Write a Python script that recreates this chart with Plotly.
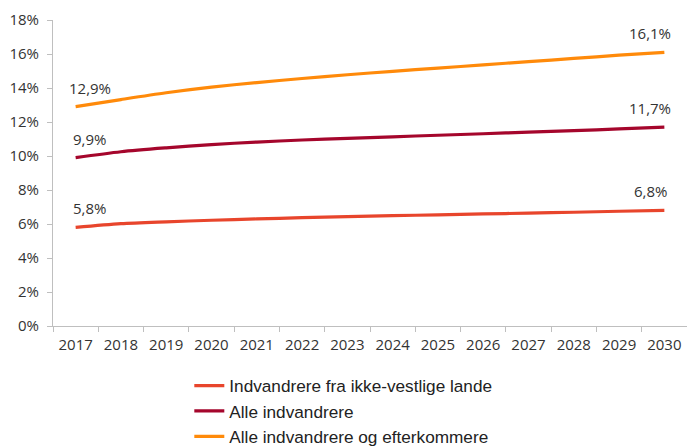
import plotly.graph_objects as go

years = [str(y) for y in range(2017, 2031)]
y_ticks = list(range(0, 19, 2))
y_tick_labels = [f"{t}%" for t in y_ticks]

# Andel af befolkningen (%)
ikke_vestlige = [5.8, 6.02, 6.13, 6.22, 6.3, 6.37, 6.43, 6.49, 6.54, 6.59, 6.64, 6.69, 6.75, 6.8]
alle_indvandrere = [9.9, 10.25, 10.48, 10.67, 10.82, 10.94, 11.04, 11.13, 11.22, 11.31, 11.4, 11.49, 11.59, 11.7]
alle_inkl_efterkommere = [12.9, 13.32, 13.72, 14.05, 14.32, 14.56, 14.78, 14.98, 15.17, 15.36, 15.55, 15.74, 15.93, 16.1]

series = [
    ("Indvandrere fra ikke-vestlige lande", ikke_vestlige, "#E8452C"),
    ("Alle indvandrere", alle_indvandrere, "#A5062C"),
    ("Alle indvandrere og efterkommere", alle_inkl_efterkommere, "#FF8A0A"),
]

label_font = dict(family="Open Sans, DejaVu Sans, sans-serif", size=15, color="#333333")

fig = go.Figure()
for name, vals, color in series:
    fig.add_trace(go.Scatter(
        x=years, y=vals, name=name, mode="lines",
        line=dict(color=color, width=3.2, shape="spline", smoothing=0.8),
    ))


def fmt(v):
    return f"{v:.1f}".replace(".", ",") + "%"


# Value labels at the first and last year (positions given as category indices)
first_idx, last_idx = 0, len(years) - 1
annotations = []
for name, vals, color in series:
    annotations.append(dict(x=first_idx, y=vals[0], xref="x", yref="y", text=fmt(vals[0]),
                            showarrow=False, xshift=14, yshift=19, font=label_font))
    annotations.append(dict(x=last_idx, y=vals[-1], xref="x", yref="y", text=fmt(vals[-1]),
                            showarrow=False, xshift=-14, yshift=19, font=label_font))

fig.update_layout(
    width=687, height=447,
    margin=dict(l=53, r=0, t=20, b=121, autoexpand=False),
    paper_bgcolor="white", plot_bgcolor="white",
    annotations=annotations,
    showlegend=True,
    legend=dict(
        orientation="v", x=0.215, y=-0.137, xanchor="left", yanchor="top",
        font=dict(family="Liberation Sans, Arial, sans-serif", size=17.2, color="#222222"),
        tracegroupgap=0, itemwidth=30,
    ),
    xaxis=dict(
        type="category", categoryorder="array", categoryarray=years,
        range=[-0.5, len(years) - 0.5], autorange=False,
        tickson="boundaries", ticks="outside", ticklen=5, tickangle=0,
        ticklabelstandoff=5,
        tickcolor="#BFBFBF", showline=True, linecolor="#BFBFBF", linewidth=1,
        showgrid=False, tickfont=label_font,
    ),
    yaxis=dict(
        range=[0, 18], autorange=False, tickmode="array",
        tickvals=y_ticks, ticktext=y_tick_labels,
        ticks="outside", ticklen=5, tickcolor="#BFBFBF",
        ticklabelstandoff=5,
        showline=True, linecolor="#BFBFBF", linewidth=1,
        showgrid=False, zeroline=False, tickfont=label_font,
    ),
)

fig.write_html("out.html")
